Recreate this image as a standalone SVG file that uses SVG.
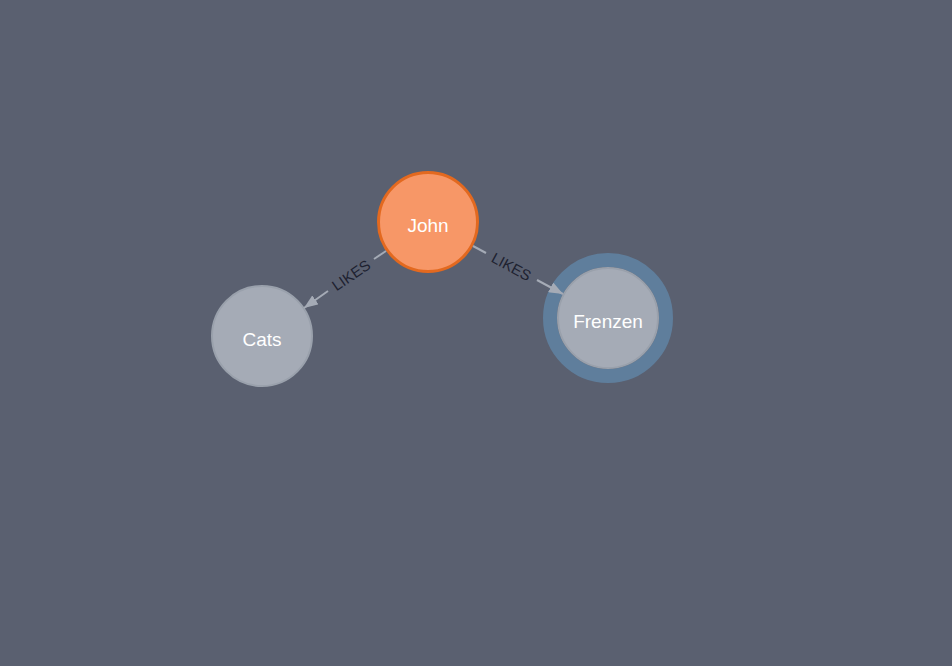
<svg xmlns="http://www.w3.org/2000/svg" width="952" height="666" viewBox="0 0 952 666">
<style>
.node-label{font-family:"Liberation Sans",Arial,sans-serif;font-size:19px;fill:#ffffff;text-anchor:middle;dominant-baseline:central}
.rel-label{font-family:"Liberation Sans",Arial,sans-serif;font-size:15px;fill:#1e2230;text-anchor:middle;dominant-baseline:central}
.rel{stroke:#a5abb6;stroke-width:2;fill:none}
.gray{fill:#a5abb6;stroke:#9aa1ac;stroke-width:2}
</style>
<defs>
<marker id="arr" viewBox="0 0 14 11" refX="14" refY="5.5" markerWidth="14" markerHeight="11" markerUnits="userSpaceOnUse" orient="auto">
<path d="M0,0 L14,5.5 L0,11 Z" fill="#a5abb6"/>
</marker>
</defs>
<rect width="952" height="666" fill="#5a6070"/>
<g id="node-john">
<circle cx="428" cy="222" r="49.5" fill="#f79767" stroke="#e3691f" stroke-width="3"/>
<text class="node-label" x="428" y="225">John</text>
</g>
<g id="node-cats">
<circle class="gray" cx="262" cy="336" r="50"/>
<text class="node-label" x="262" y="339">Cats</text>
</g>
<g id="node-frenzen">
<circle cx="608" cy="318" r="58" fill="none" stroke="#5f7e9c" stroke-width="14"/>
<circle class="gray" cx="608" cy="318" r="50"/>
<text class="node-label" x="608" y="321">Frenzen</text>
</g>
<g id="connectors">
<g id="rel-john-cats">
<line class="rel" x1="386" y1="251" x2="374" y2="259"/>
<line class="rel" x1="328" y1="291" x2="304" y2="308" marker-end="url(#arr)"/>
<text class="rel-label" transform="translate(351,275) rotate(-34.5)">LIKES</text>
</g>
<g id="rel-john-frenzen">
<line class="rel" x1="473" y1="246" x2="486" y2="253"/>
<line class="rel" x1="537" y1="280" x2="563" y2="294" marker-end="url(#arr)"/>
<text class="rel-label" transform="translate(511.5,266.5) rotate(28.1)">LIKES</text>
</g>
</g>
</svg>
